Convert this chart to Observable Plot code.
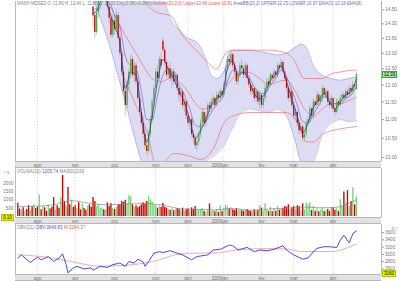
<!DOCTYPE html>
<html><head><meta charset="utf-8">
<script src="https://cdn.jsdelivr.net/npm/d3@7"></script>
<script src="https://cdn.jsdelivr.net/npm/@observablehq/plot@0.6"></script>
<style>
body{margin:0;background:#fff;}
#wrap{position:relative;width:400px;height:281px;overflow:hidden;font-family:"Liberation Sans",Arial,sans-serif;background:#fff;}
.band{position:absolute;left:15px;width:366px;background:#e2e2e2;border-top:1px solid #b8b8b8;border-bottom:1px solid #b8b8b8;box-sizing:border-box;}
.lbl{position:absolute;white-space:nowrap;font-size:4.5px;color:#888;line-height:1;}
.panel{position:absolute;left:0;}
.box{position:absolute;font-size:4.5px;line-height:5px;height:5px;padding:0 1px;white-space:nowrap;}
</style></head><body><div id="wrap"></div>
<script>
// ---- data ----
const monthTicks = [11, 32, 54, 77, 95, 115, 136, 154, 176];
const monthLabels = ["ago", "set", "out", "nov", "dez", "2009jan", "fev", "mar", "abr"];
const priceTicks = [10, 10.5, 11, 11.5, 12, 12.5, 13, 13.5, 14, 14.5];
const volTicks = [500, 1000, 1500, 2000];
const obvTicks = [2600, 2800, 3000, 3200, 3400, 3600];

const candleStart = 42;
const opens = [14.6,14.3,13.7,14.4,14.9,15.2,15.4,15.0,15.3,14.6,14.2,13.6,14.1,13.8,14.3,13.5,13.0,12.4,11.8,11.4,12.0,12.4,12.8,12.3,12.6,12.1,11.6,11.2,10.9,10.6,10.3,10.15,10.6,11.0,11.5,11.9,12.4,12.2,12.8,13.4,13.1,12.7,12.3,12.5,12.2,12.4,12.1,12.3,11.9,11.7,11.8,11.4,11.5,11.1,10.9,11.0,10.6,10.5,10.3,10.4,10.6,10.9,11.2,10.9,11.1,11.4,11.3,11.5,11.6,11.4,11.7,11.6,11.8,11.7,12.0,12.5,12.8,12.7,12.95,12.6,12.4,12.1,12.3,12.6,12.5,12.3,12.6,12.2,12.0,11.8,11.9,11.6,11.8,11.5,11.7,11.4,11.6,11.9,12.1,12.0,12.3,12.2,12.4,12.3,12.6,12.5,12.7,12.4,12.2,11.9,11.6,11.8,11.4,11.1,11.2,10.9,10.7,10.8,10.5,10.6,10.9,11.0,11.3,11.1,11.5,11.4,11.7,11.5,11.6,11.9,11.7,11.8,11.5,11.4,11.6,11.3,11.2,11.5,11.4,11.6,11.7,11.6,11.8,11.7,11.9,11.8,12.0,11.86];
const highs = [14.8,14.5,14.6,15.1,15.5,15.6,15.5,15.5,15.4,14.8,14.3,14.3,14.3,14.5,14.4,13.6,13.1,12.6,12.0,12.1,12.5,12.95,12.9,12.7,12.7,12.2,11.8,11.3,11.1,10.8,10.5,10.7,11.1,11.6,12.0,12.5,12.6,12.9,13.0,13.5,13.2,12.8,12.6,12.7,12.5,12.5,12.4,12.35,12.0,11.9,11.85,11.6,11.55,11.2,11.1,11.05,10.7,10.6,10.5,10.7,11.0,11.3,11.25,11.2,11.5,11.5,11.6,11.7,11.65,11.8,11.8,11.9,11.85,12.1,12.6,12.9,12.95,13.05,13.0,12.7,12.5,12.4,12.7,12.8,12.6,12.7,12.65,12.3,12.1,12.0,11.95,11.9,11.85,11.8,11.75,11.7,12.0,12.2,12.2,12.4,12.35,12.5,12.45,12.7,12.65,12.8,12.75,12.5,12.3,12.0,11.9,11.85,11.5,11.3,11.25,11.0,10.9,10.85,10.7,11.0,11.1,11.4,11.35,11.6,11.55,11.8,11.75,11.7,12.0,11.95,11.9,11.85,11.6,11.7,11.65,11.4,11.6,11.55,11.7,11.8,11.75,11.9,11.85,12.0,11.95,12.1,12.05,12.40];
const lows = [13.9,13.5,13.6,14.2,14.8,15.0,14.9,14.9,14.5,14.0,13.5,13.5,13.6,13.7,13.4,12.9,12.3,11.7,11.1,11.3,11.8,12.2,12.2,12.1,12.0,11.5,11.1,10.8,10.5,10.2,10.05,10.1,10.5,10.9,11.3,11.8,12.1,12.1,12.5,13.0,12.6,12.2,12.2,12.1,11.9,12.0,12.0,11.8,11.5,11.4,11.3,11.2,11.0,10.8,10.7,10.5,10.35,10.2,10.15,10.3,10.5,10.8,10.8,10.8,11.0,11.2,11.2,11.4,11.3,11.35,11.5,11.5,11.6,11.6,11.95,12.4,12.6,12.6,12.5,12.3,12.0,12.0,12.2,12.4,12.2,12.2,12.1,11.9,11.7,11.7,11.5,11.5,11.4,11.3,11.3,11.3,11.5,11.8,11.9,11.95,12.1,12.1,12.2,12.25,12.4,12.45,12.3,12.1,11.8,11.5,11.5,11.3,11.0,11.0,10.8,10.6,10.6,10.4,10.4,10.5,10.8,10.9,11.0,11.0,11.3,11.3,11.4,11.4,11.5,11.6,11.6,11.4,11.3,11.3,11.2,11.1,11.15,11.3,11.35,11.5,11.5,11.55,11.6,11.65,11.7,11.75,11.85,11.85];
const closes = [14.3,13.7,14.4,14.9,15.2,15.4,15.0,15.3,14.6,14.2,13.6,14.1,13.8,14.3,13.5,13.0,12.4,11.8,11.4,12.0,12.4,12.8,12.3,12.6,12.1,11.6,11.2,10.9,10.6,10.3,10.15,10.6,11.0,11.5,11.9,12.4,12.2,12.8,12.6,13.1,12.7,12.3,12.5,12.2,12.4,12.1,12.3,11.9,11.7,11.8,11.4,11.5,11.1,10.9,11.0,10.6,10.5,10.3,10.4,10.6,10.9,11.2,10.9,11.1,11.4,11.3,11.5,11.6,11.4,11.7,11.6,11.8,11.7,12.0,12.5,12.8,12.7,12.95,12.6,12.4,12.1,12.3,12.6,12.5,12.3,12.6,12.2,12.0,11.8,11.9,11.6,11.8,11.5,11.7,11.4,11.6,11.9,12.1,12.0,12.3,12.2,12.4,12.3,12.6,12.5,12.7,12.4,12.2,11.9,11.6,11.8,11.4,11.1,11.2,10.9,10.7,10.8,10.5,10.6,10.9,11.0,11.3,11.1,11.5,11.4,11.7,11.5,11.6,11.9,11.7,11.8,11.5,11.4,11.6,11.3,11.2,11.5,11.4,11.6,11.7,11.6,11.8,11.7,11.9,11.8,12.0,11.95,12.33];

const bbIdx   = [42,50,60,70,78,82,85,90,95,100,105,108,111,115,118,120,125,130,135,140,145,150,155,158,161,165,170,175,180,185,189];
const bbUpper = [16.5,16.2,16.0,15.8,15.2,14.8,14.2,13.8,13.5,13.37,12.8,12.3,12.2,12.4,13.0,13.1,13.1,13.1,13.05,13.0,12.95,13.0,13.2,13.3,13.2,12.6,12.3,12.2,12.15,12.2,12.25];
const bbLower = [14.9,13.5,11.5,9.8,9.3,9.2,9.3,9.5,9.7,9.8,9.9,10.0,10.1,10.3,10.6,10.8,11.2,11.3,11.25,11.2,11.3,11.1,10.4,9.9,9.8,9.9,10.6,10.9,11.0,10.95,10.97];

const kUpIdx = [60,70,78,85,92,102,106,111,116,120,130,140,150,154,160,165,170,175,180,185,189];
const kUpper = [16.0,14.85,14.4,14.3,13.6,12.95,12.7,12.5,13.0,13.1,13.1,13.1,13.0,12.8,12.2,12.2,12.2,12.35,12.4,12.45,12.46];
const kMidIdx = [52,60,65,70,75,80,85,90,95,100,103,107,112,117,122,128,135,140,145,150,155,160,165,170,175,180,185,189];
const kMid    = [14.6,13.6,13.1,12.6,12.2,12.1,12.2,12.1,11.8,11.4,11.3,11.35,11.6,12.0,12.3,12.4,12.2,12.0,12.1,12.15,11.8,11.3,11.1,11.3,11.45,11.45,11.55,11.64];
const kLoIdx = [58,66,72,78,87,95,102,110,115,120,130,140,150,155,158,161,165,170,175,180,189];
const kLower = [12.4,11.4,10.7,9.7,10.1,10.05,9.95,10.3,10.9,11.1,11.2,11.2,11.2,11.0,10.7,10.4,10.4,10.6,10.7,10.75,10.81];

const emaIdx = [42,45,48,51,54,57,60,63,66,69,72,75,78,81,84,87,90,93,96,99,102,105,108,111,114,117,120,123,126,129,132,135,138,141,144,147,150,153,156,159,162,165,168,171,174,177,180,183,186,189];
const ema3 = [14.3,14.6,15.1,14.5,13.9,13.4,11.9,12.4,12.3,11.2,10.4,11.1,12.1,12.8,12.5,12.2,11.8,11.5,11.0,10.5,10.7,11.0,11.4,11.6,11.7,12.5,12.75,12.3,12.4,12.15,11.75,11.6,11.75,12.15,12.3,12.6,12.1,11.6,11.1,10.65,10.9,11.35,11.55,11.75,11.5,11.3,11.5,11.7,11.8,12.18];
const ema8 = [14.6,14.5,14.9,14.8,14.3,13.9,12.9,12.6,12.5,11.8,11.0,11.0,11.7,12.3,12.5,12.35,12.0,11.7,11.3,10.85,10.8,10.95,11.2,11.45,11.6,12.1,12.45,12.4,12.4,12.25,11.95,11.75,11.75,12.0,12.2,12.45,12.25,11.85,11.4,10.95,10.9,11.15,11.4,11.65,11.6,11.45,11.45,11.6,11.7,11.95];

const volumes = [800,450,380,520,300,420,650,350,580,700,480,560,1290,400,620,520,300,680,450,560,1135,400,650,500,1135,2470,900,600,1747,700,1000,550,650,480,820,400,750,500,380,620,700,560,1135,900,620,700,480,520,400,380,820,600,760,500,420,540,680,720,900,850,980,760,1255,1190,700,560,640,520,600,700,820,760,900,1190,1000,880,700,650,500,620,540,780,560,500,420,380,460,350,400,480,420,360,500,300,420,460,280,520,440,600,380,350,420,480,300,260,400,760,300,360,280,420,240,650,300,500,700,580,450,520,400,360,480,300,420,350,300,380,420,350,300,280,400,320,360,650,500,300,760,400,300,540,280,450,320,600,380,420,500,600,560,700,420,520,600,400,650,580,320,760,400,820,700,820,360,600,300,460,280,380,540,300,350,420,300,520,530,380,460,300,1000,640,1470,800,1550,600,900,1720,700,1190];
const volDirEarly = "rrgrgrrgrgrrgrgrrgrrrgrrgrrgrrgrrgrrgrrgr".split("");
const volMaIdx = [0,10,20,25,30,40,50,60,70,80,90,100,110,120,130,140,150,160,170,180,185,189];
const volMa    = [600,620,700,850,950,800,700,750,780,700,480,420,400,480,380,450,500,560,520,580,800,1000];

const obvIdx = [0,2,7,11,13,17,20,23,25,27,28,31,33,37,41,42,46,50,53,57,60,62,65,67,70,71,73,76,79,81,85,89,92,97,100,106,109,113,118,120,123,128,132,135,139,143,148,150,154,159,162,165,167,171,174,178,180,182,185,187,189];
const obv = [2897,2986,2778,2924,2851,2941,2805,2897,3014,2716,2492,2627,2670,2600,2630,2562,2670,2640,2716,2762,2670,2805,2762,2870,2789,2670,2805,3032,3076,3050,3103,3030,2986,2851,2941,2986,3122,3140,3257,3240,3122,3194,3076,3122,3100,3140,3238,3122,2986,2870,2900,3076,3167,3212,3212,3190,3392,3527,3319,3573,3650];
const obvMaIdx = [0,15,30,45,60,75,93,111,120,139,150,158,176,182,189];
const obvMa    = [2990,2930,2800,2680,2700,2800,3030,3040,3110,3160,3150,3080,3080,3150,3284];

// ---- build ----
const wrap = document.getElementById("wrap");
const X = {domain: [-1.28, 203], axis: null};
const W = 400, ML = 15, MR = 19;
const RED = "#cc0000", GREEN = "#44b044";

const candles = opens.map((o, k) => ({i: candleStart + k, o, h: highs[k], l: lows[k], c: closes[k]}));
const bb = bbIdx.map((i, k) => ({i, u: bbUpper[k], l: bbLower[k]}));
const ku = kUpIdx.map((i, k) => ({i, v: kUpper[k]}));
const km = kMidIdx.map((i, k) => ({i, v: kMid[k]}));
const kl = kLoIdx.map((i, k) => ({i, v: kLower[k]}));
const e3 = emaIdx.map((i, k) => ({i, v: ema3[k]}));
const e8 = emaIdx.map((i, k) => ({i, v: ema8[k]}));
const vols = volumes.map((v, i) => {
  let dir;
  if (i < candleStart) dir = volDirEarly[i];
  else { const c = candles[i - candleStart]; dir = c.c >= c.o ? "g" : "r"; }
  return {i, v, dir};
});
const vma = volMaIdx.map((i, k) => ({i, v: volMa[k]}));
const ob = obvIdx.map((i, k) => ({i, v: obv[k]}));
const obm = obvMaIdx.map((i, k) => ({i, v: obvMa[k]}));

function addBand(top) {
  const b = document.createElement("div");
  b.className = "band"; b.style.top = top + "px"; b.style.height = "7px";
  wrap.appendChild(b);
}
function place(el, top) {
  el.classList.add("panel"); el.style.top = top + "px";
  el.style.background = "transparent";
  wrap.appendChild(el);
}
function monthAxis() {
  return [
    Plot.text(monthTicks.filter((d,k)=>k!==5), {x: d=>d, text: d => monthLabels[monthTicks.indexOf(d)], frameAnchor: "bottom", dy: 5.2, fontSize: 4.6, fill: "#777"}),
    Plot.text([monthTicks[5]], {x: d=>d, text: d => monthLabels[5], frameAnchor: "bottom", dy: 5.2, dx: -4, fontSize: 4.6, fill: "#777"})
  ];
}
const grid = Plot.ruleX(monthTicks, {stroke: "#c8c8c8", strokeWidth: 0.6, strokeDasharray: "1.5,1.5"});

// main
addBand(161);
const main = Plot.plot({
  width: W, height: 168, marginLeft: ML, marginRight: MR, marginTop: 1, marginBottom: 7,
  style: {background: "transparent", fontFamily: "Liberation Sans, Arial, sans-serif"},
  x: X,
  y: {type: "log", domain: [9.90, 14.81], axis: null},
  marks: [
    grid,
    Plot.areaY(bb, {x: "i", y1: "l", y2: "u", fill: "#dcdcf5", curve: "monotone-x", clip: true}),
    Plot.line(bb, {x: "i", y: "u", stroke: "#a8a8e0", strokeWidth: 0.7, curve: "monotone-x", clip: true}),
    Plot.line(bb, {x: "i", y: "l", stroke: "#a8a8e0", strokeWidth: 0.7, curve: "monotone-x", clip: true}),
    Plot.line(ku, {x: "i", y: "v", stroke: "#f07070", strokeWidth: 0.7, curve: "monotone-x", clip: true}),
    Plot.line(km, {x: "i", y: "v", stroke: "#f07070", strokeWidth: 0.7, curve: "monotone-x", clip: true}),
    Plot.line(kl, {x: "i", y: "v", stroke: "#f07070", strokeWidth: 0.7, curve: "monotone-x", clip: true}),
    Plot.ruleX(candles, {x: "i", y1: "l", y2: "h", stroke: "#a0a0a0", strokeWidth: 0.6, clip: true}),
    Plot.ruleX(candles, {x: "i", y1: "o", y2: "c", stroke: d => d.c >= d.o ? GREEN : RED, strokeWidth: 1.3, clip: true}),
    Plot.line(e8, {x: "i", y: "v", stroke: "#7070c8", strokeWidth: 0.7, curve: "monotone-x", clip: true}),
    Plot.line(e3, {x: "i", y: "v", stroke: "#303080", strokeWidth: 0.7, curve: "monotone-x", clip: true}),
    Plot.axisY(priceTicks, {anchor: "right", tickSize: 2, tickPadding: 1.5, tickFormat: d3.format(".2f"), fontSize: 4.8, color: "#777", stroke: "#999"}),
    ...monthAxis(),
    Plot.ruleX([-1.28], {stroke: "#aaa", strokeWidth: 0.8}),
    Plot.ruleX([203], {stroke: "#f08080", strokeWidth: 0.8})
  ]
});
place(main, 0);

// volume
addBand(217);
const vol = Plot.plot({
  width: W, height: 57, marginLeft: ML, marginRight: MR, marginTop: 1, marginBottom: 7,
  style: {background: "transparent", fontFamily: "Liberation Sans, Arial, sans-serif"},
  x: X,
  y: {domain: [-59, 2882], axis: null},
  marks: [
    grid,
    Plot.ruleX(vols, {x: "i", y1: 0, y2: "v", stroke: d => d.dir === "g" ? "#7cd27c" : RED, strokeWidth: 1.35, clip: true}),
    Plot.line(vma, {x: "i", y: "v", stroke: "#888", strokeWidth: 0.7, curve: "monotone-x", clip: true}),
    Plot.axisY(volTicks, {anchor: "left", tickSize: 0, tickPadding: 2, tickFormat: d3.format("d"), fontSize: 4.6, color: "#777"}),
    ...monthAxis(),
    Plot.ruleX([-1.28], {stroke: "#aaa", strokeWidth: 0.8}),
    Plot.ruleX([203], {stroke: "#aaa", strokeWidth: 0.8})
  ]
});
place(vol, 167);

// OBV
addBand(274);
const obvPlot = Plot.plot({
  width: W, height: 58, marginLeft: ML, marginRight: MR, marginTop: 1, marginBottom: 7,
  style: {background: "transparent", fontFamily: "Liberation Sans, Arial, sans-serif"},
  x: X,
  y: {domain: [2446, 3824], axis: null},
  marks: [
    grid,
    Plot.line(obm, {x: "i", y: "v", stroke: "#f4a0a0", strokeWidth: 0.9, curve: "monotone-x", clip: true}),
    Plot.line(ob, {x: "i", y: "v", stroke: "#1a1aee", strokeWidth: 0.8, clip: true}),
    Plot.axisY(obvTicks, {anchor: "right", tickSize: 2, tickPadding: 1.5, tickFormat: d3.format("d"), fontSize: 4.6, color: "#777", stroke: "#999"}),
    ...monthAxis(),
    Plot.ruleX([-1.28], {stroke: "#aaa", strokeWidth: 0.8}),
    Plot.ruleX([203], {stroke: "#aaa", strokeWidth: 0.8})
  ]
});
place(obvPlot, 223);

// labels
function label(top, left, html, size, ls) {
  const d = document.createElement("div");
  d.className = "lbl"; d.style.top = top + "px"; d.style.left = left + "px"; d.innerHTML = html;
  if (size) d.style.fontSize = size + "px";
  if (ls) d.style.letterSpacing = ls + "px";
  wrap.appendChild(d);
}
label(2, 17, 'MASH MDSE3 O: 11.86 H: 12.40 L: 11.85 C: 12.33 Chg 0.38(+3.18%) <span style="color:#e06060">Keltner(20,2.0) Upper:12.46 Lower:10.81</span> <span style="color:#7070c0">AreaBB(20,2) UPPER:12.25 LOWER:10.97 EMA(3) 12.18 EMA(8)</span>', 4.5, -0.07);
label(170, 17, 'VOLMA(10) <span style="color:#6060d0">1205.74</span> MA(50)2169');
label(226, 17, 'OBV(21) <span style="color:#5050e0">OBV:3649.83</span> <span style="color:#e06060">M:3284.37</span>');

// current value boxes
function box(top, left, text, bg, border) {
  const d = document.createElement("div");
  d.className = "box"; d.style.top = top + "px"; d.style.left = left + "px";
  d.style.background = bg; d.style.border = "0.5px solid " + border; d.textContent = text;
  wrap.appendChild(d);
}
const yMain = main.scale("y").apply(closes[closes.length - 1]);
box(yMain - 3, 382, d3.format(".2f")(closes[closes.length - 1]), "#9be89b", "#3a3");
box(214, 1, "0.10", "#f4f000", "#bb0");
box(270, 382, "3160", "#f4f000", "#bb0");
</script></body></html>
